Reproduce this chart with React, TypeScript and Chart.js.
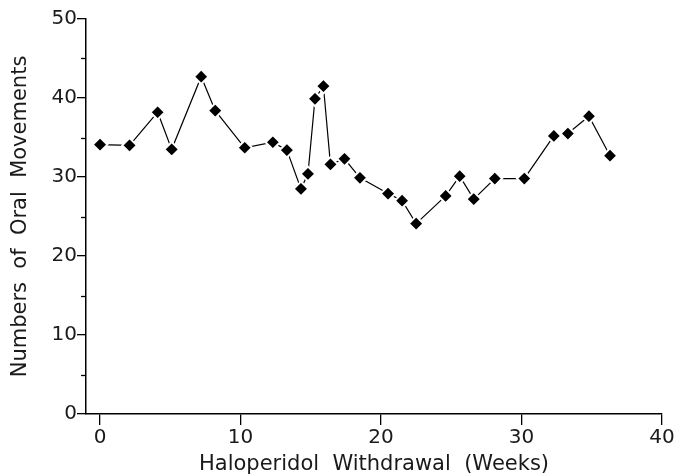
import React, { useEffect, useRef } from "react";
import { Chart, registerables } from "chart.js";

Chart.register(...registerables);

const weeks = [0, 2.1, 4.1, 5.1, 7.2, 8.2, 10.3, 12.3, 13.3, 14.3, 14.8, 15.3, 15.9, 16.4, 17.4, 18.5, 20.5, 21.5, 22.5, 24.6, 25.6, 26.6, 28.1, 30.2, 32.3, 33.3, 34.8, 36.3];
const movements = [34.1, 34.0, 38.2, 33.5, 42.7, 38.4, 33.7, 34.4, 33.4, 28.5, 30.4, 39.9, 41.5, 31.6, 32.3, 29.9, 27.9, 27.0, 24.1, 27.6, 30.1, 27.2, 29.8, 29.8, 35.2, 35.5, 37.7, 32.7];
const xTickValues = [0, 10, 20, 30, 40];
const yTickValues = [0, 10, 20, 30, 40, 50];
const yMinorTickValues = [5, 15, 25, 35, 45];
const xTitle = "Haloperidol  Withdrawal  (Weeks)";
const yTitle = "Numbers  of  Oral  Movements";

const FONT = "'DejaVu Sans', sans-serif";

const minorTicks = {
  id: "minorTicks",
  afterDraw(chart: any) {
    const y = chart.scales.y;
    const ctx = chart.ctx;
    ctx.save();
    ctx.strokeStyle = "#000";
    ctx.lineWidth = 1.3;
    const x0 = chart.chartArea.left;
    yMinorTickValues.forEach((v) => {
      const py = Math.round(y.getPixelForValue(v)) + 0.5;
      ctx.beginPath();
      ctx.moveTo(x0 - 5, py);
      ctx.lineTo(x0, py);
      ctx.stroke();
    });
    ctx.restore();
  },
};

export default function App() {
  const ref = useRef<HTMLCanvasElement | null>(null);
  useEffect(() => {
    if (!ref.current) return;
    const chart = new Chart(ref.current, {
      type: "line",
      data: {
        datasets: [
          {
            data: weeks.map((w, i) => ({ x: w, y: movements[i] })),
            borderColor: "#000",
            borderWidth: 1.2,
            pointStyle: "rectRot",
            pointRadius: 7.3,
            pointBackgroundColor: "#000",
            pointBorderColor: "#fff",
            pointBorderWidth: 2,
            tension: 0,
          },
        ],
      },
      options: {
        animation: false,
        responsive: false,
        maintainAspectRatio: false,
        plugins: { legend: { display: false }, tooltip: { enabled: false } },
        layout: { padding: { top: 19, right: 16, left: 0, bottom: 0 } },
        scales: {
          x: {
            type: "linear",
            min: -1,
            max: 40,
            afterBuildTicks: (s: any) => {
              s.ticks = xTickValues.map((v) => ({ value: v }));
            },
            afterFit: (s: any) => {
              s.height = 60;
            },
            border: { display: true, color: "#000", width: 1.5 },
            grid: { display: true, drawOnChartArea: false, drawTicks: true, tickLength: 11, color: "#000", lineWidth: 1.3 },
            ticks: { color: "#1a1a1a", font: { family: FONT, size: 20 }, padding: 1, maxRotation: 0 },
            title: { display: true, text: xTitle, color: "#1a1a1a", font: { family: FONT, size: 21 }, padding: { top: 0, bottom: -3 } },
          },
          y: {
            type: "linear",
            min: 0,
            max: 50,
            afterBuildTicks: (s: any) => {
              s.ticks = yTickValues.map((v) => ({ value: v }));
            },
            afterFit: (s: any) => {
              s.width = 86;
            },
            border: { display: true, color: "#000", width: 1.5 },
            grid: { display: true, drawOnChartArea: false, drawTicks: true, tickLength: 9, color: "#000", lineWidth: 1.3 },
            ticks: { color: "#1a1a1a", font: { family: FONT, size: 20 }, padding: 0 },
            title: { display: true, text: yTitle, color: "#1a1a1a", font: { family: FONT, size: 21 }, padding: { top: 8, bottom: 0 } },
          },
        },
      },
      plugins: [minorTicks],
    });
    return () => chart.destroy();
  }, []);
  return (
    <div style={{ position: "absolute", left: 0, top: 0, width: 678, height: 474, background: "#fff" }}>
      <canvas ref={ref} width={678} height={474} style={{ width: 678, height: 474 }} />
    </div>
  );
}
